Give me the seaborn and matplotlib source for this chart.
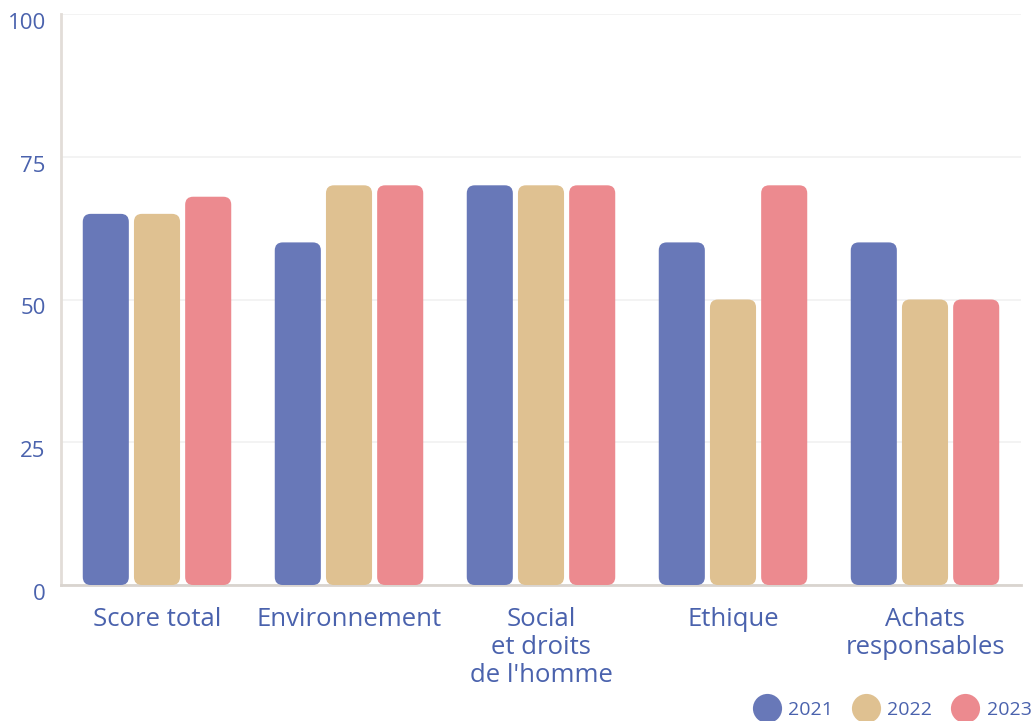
import matplotlib
matplotlib.use("Agg")
import matplotlib.pyplot as plt
import matplotlib.transforms as mtransforms
from matplotlib.patches import FancyBboxPatch
from matplotlib.lines import Line2D
import seaborn as sns
import pandas as pd

categories = ["Score total", "Environnement", "Social\net droits\nde l'homme",
              "Ethique", "Achats\nresponsables"]
years = ["2021", "2022", "2023"]
scores_2021 = [65, 60, 70, 60, 60]
scores_2022 = [65, 70, 70, 50, 50]
scores_2023 = [68, 70, 70, 70, 50]
y_ticks = [0, 25, 50, 75, 100]

colors = ["#6878b8", "#dfc191", "#ec8a8f"]
text_color = "#4a62ad"

rows = []
for year, vals in zip(years, [scores_2021, scores_2022, scores_2023]):
    for cat, v in zip(categories, vals):
        rows.append({"category": cat, "year": year, "score": v})
df = pd.DataFrame(rows)

sns.set_theme(style="white")
plt.rcParams["font.family"] = ["Open Sans", "DejaVu Sans"]

fig = plt.figure(figsize=(10.36, 7.21), dpi=100)
ax = fig.add_axes([61 / 1036, 1 - 585 / 721, (1021 - 61) / 1036, (585 - 14) / 721])

sns.barplot(data=df, x="category", y="score", hue="year", order=categories,
            hue_order=years, palette=colors, width=0.8, gap=0.1,
            saturation=1, legend=False, ax=ax)

ax.set_xlim(-0.5, 4.5)
ax.set_ylim(0, 100)

# swap the plain bars for rounded ones
fig.canvas.draw()
bbox = ax.get_window_extent()
x_per_px = 5.0 / bbox.width
y_per_px = 100.0 / bbox.height
aspect = y_per_px / x_per_px
radius = 8 * x_per_px
for p in list(ax.patches):
    x, y = p.get_x(), p.get_y()
    w, h = p.get_width(), p.get_height()
    fc = p.get_facecolor()
    p.remove()
    ax.add_patch(FancyBboxPatch((x, y), w, h,
                                boxstyle=f"round,pad=0,rounding_size={radius}",
                                mutation_aspect=aspect, facecolor=fc,
                                edgecolor="none", zorder=3))

# grid and spines
ax.set_yticks(y_ticks)
ax.yaxis.grid(True, color="#f1f1f1", linewidth=1.2, zorder=0)
ax.set_axisbelow(True)
for side in ["top", "right"]:
    ax.spines[side].set_visible(False)
ax.spines["left"].set_color("#e2ddd8")
ax.spines["left"].set_linewidth(2)
ax.spines["bottom"].set_color("#d9d4cf")
ax.spines["bottom"].set_linewidth(2)

ax.tick_params(axis="y", length=0, pad=11, labelsize=16, labelcolor=text_color)
ax.tick_params(axis="x", which="major", length=0, pad=16, labelsize=18.5,
               labelcolor=text_color)
ax.set_xticks([0.5, 1.5, 2.5, 3.5], minor=True)
ax.tick_params(axis="x", which="minor", direction="in", length=12, width=1.5,
               color="#d9d4cf")
ax.set_xticklabels(categories, linespacing=1.16)
for lbl in ax.get_yticklabels():
    lbl.set_transform(lbl.get_transform() +
                      mtransforms.ScaledTranslation(0, -7 / 100, fig.dpi_scale_trans))
ax.set_xlabel("")
ax.set_ylabel("")

handles = [Line2D([], [], marker="o", linestyle="none", markersize=21,
                  markerfacecolor=c, markeredgecolor="none") for c in colors]
fig.legend(handles, years, loc="center left",
           bbox_to_anchor=(757 / 1036, 1 - 710 / 721), ncol=3, frameon=False,
           fontsize=14, labelcolor=text_color, handletextpad=0.6,
           columnspacing=1.2, handlelength=1.0, borderaxespad=0, borderpad=0)

fig.savefig("out.png", dpi=100)
